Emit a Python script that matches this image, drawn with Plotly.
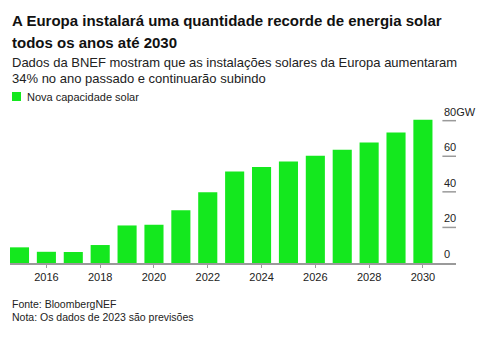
import plotly.graph_objects as go

years = list(range(2015, 2031))
capacity = [8.8, 6.3, 6.2, 10.1, 21.1, 21.5, 29.7, 39.8, 51.4, 54.0, 57.0, 60.3, 63.7, 67.8, 73.4, 80.5]
y_ticks = [0, 20, 40, 60, 80]
y_tick_labels = ["0", "20", "40", "60", "80GW"]
x_ticks = list(range(2016, 2031, 2))

title_lines = ["A Europa instalará uma quantidade recorde de energia solar",
               "todos os anos até 2030"]
subtitle_lines = ["Dados da BNEF mostram que as instalações solares da Europa aumentaram",
                  "34% no ano passado e continuarão subindo"]
legend_label = "Nova capacidade solar"
source_lines = ["Fonte: BloombergNEF", "Nota: Os dados de 2023 são previsões"]

GREEN = "#14e81e"
FONT = "Liberation Sans, Arial, sans-serif"

fig = go.Figure()
fig.add_trace(go.Bar(x=years, y=capacity, marker=dict(color=GREEN, line=dict(width=0)),
                     width=0.71, name=legend_label, showlegend=False))

W, H = 486, 345
ml, mr, mt, mb = 10, 30, 110, 82

fig.update_layout(
    width=W, height=H,
    margin=dict(l=ml, r=mr, t=mt, b=mb),
    paper_bgcolor="white", plot_bgcolor="white",
    font=dict(family=FONT, color="#222"),
    bargap=0.29,
    xaxis=dict(range=[2014.647, 2031.23], tickvals=x_ticks, ticktext=[str(t) for t in x_ticks],
               showgrid=False, zeroline=False, showline=True, linecolor="#9a9a9a", linewidth=2,
               ticks="outside", ticklen=3, tickcolor="#9a9a9a", tickwidth=1,
               tickfont=dict(size=11, color="#222", family=FONT), fixedrange=True),
    yaxis=dict(range=[0, 86.0], showgrid=False, zeroline=False, showticklabels=False,
               showline=False, fixedrange=True),
)

# y-axis short tick segments and labels at right
for v, lab in zip(y_ticks, y_tick_labels):
    if v > 0:
        fig.add_shape(type="line", xref="x domain", yref="y", x0=0.9695, x1=1.0, y0=v, y1=v,
                      line=dict(color="#9a9a9a", width=1.5))
    fig.add_annotation(xref="x domain", yref="y", x=0.9695, y=v, text=lab, showarrow=False,
                       xanchor="left", yanchor="bottom", yshift=1,
                       font=dict(size=11, color="#222", family=FONT))

# title / subtitle
for i, t in enumerate(title_lines):
    fig.add_annotation(xref="paper", yref="paper", x=0, y=1, text=f"<b>{t}</b>", showarrow=False,
                       xanchor="left", yanchor="middle", yshift=(mt - [20, 42][i]),
                       font=dict(size=15, color="#111", family=FONT))
for i, t in enumerate(subtitle_lines):
    fig.add_annotation(xref="paper", yref="paper", x=0, y=1, text=t, showarrow=False,
                       xanchor="left", yanchor="middle", yshift=(mt - [62, 78][i]),
                       font=dict(size=13, color="#222", family=FONT))

# legend
fig.add_shape(type="rect", xref="paper", yref="paper", x0=2 / (W - ml - mr), x1=11 / (W - ml - mr),
              y0=1 + (mt - 101) / (H - mt - mb), y1=1 + (mt - 92) / (H - mt - mb),
              fillcolor=GREEN, line=dict(width=0))
fig.add_annotation(xref="paper", yref="paper", x=15 / (W - ml - mr), y=1, text=legend_label,
                   showarrow=False, xanchor="left", yanchor="middle", yshift=(mt - 96.5),
                   font=dict(size=11, color="#222", family=FONT))

# source / note
for i, t in enumerate(source_lines):
    fig.add_annotation(xref="paper", yref="paper", x=0, y=0, text=t, showarrow=False,
                       xanchor="left", yanchor="middle", yshift=-([304, 317][i] - (H - mb)),
                       font=dict(size=10.5, color="#222", family=FONT))

fig.write_html("out.html")
